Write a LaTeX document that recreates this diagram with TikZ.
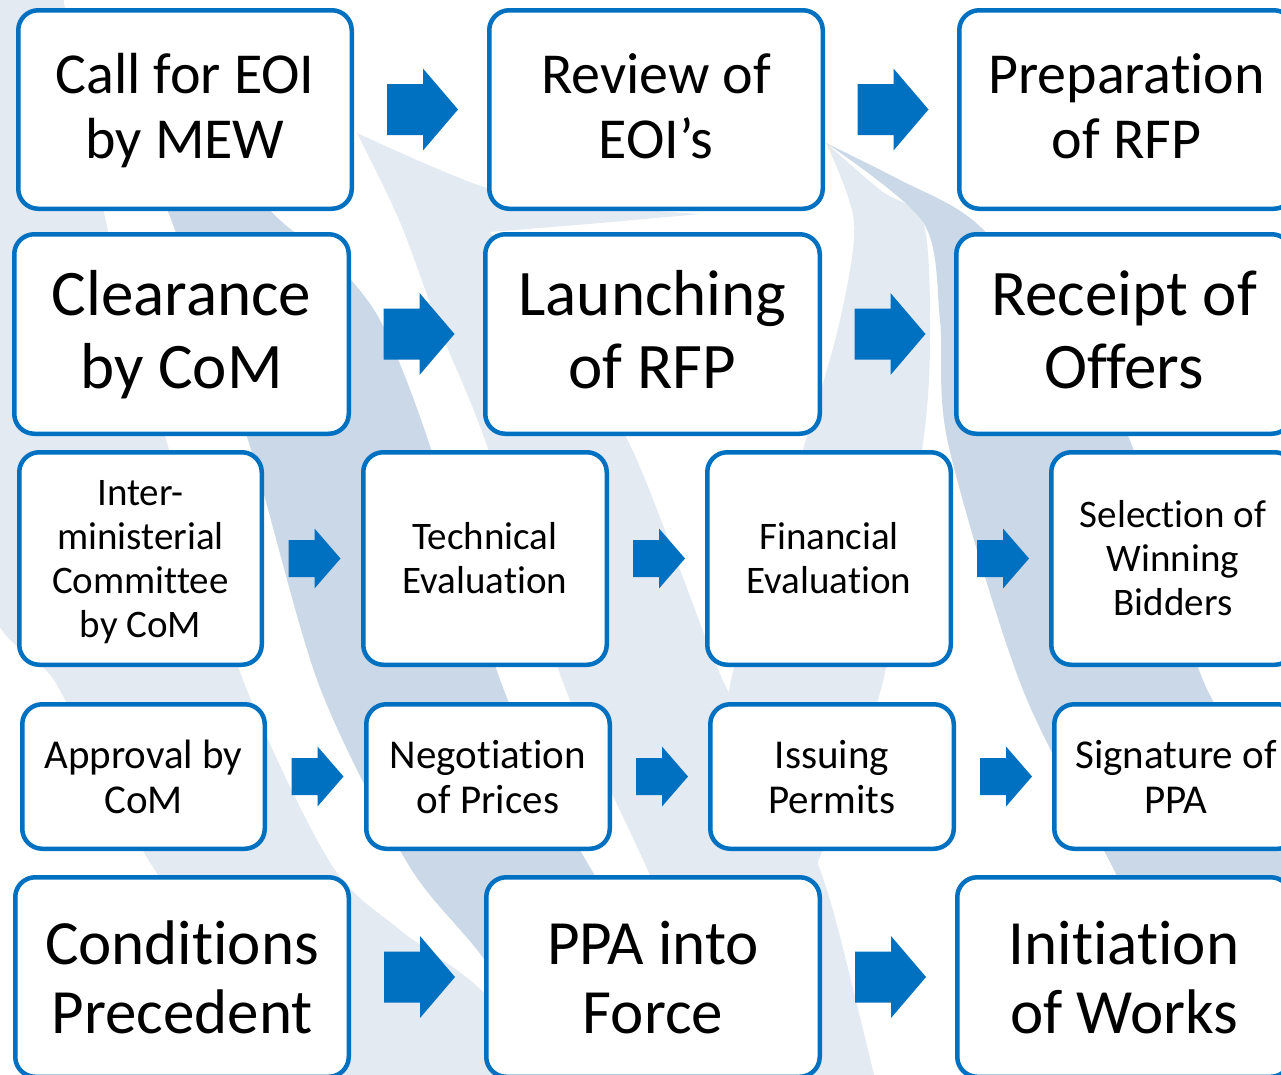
\documentclass[tikz,border=0pt]{standalone}
\usepackage{fontspec}
\setmainfont{Carlito}[RawFeature={-liga;-calt;-clig;-dlig}]
\usetikzlibrary{calc}
\definecolor{bord}{RGB}{0,112,192}
\definecolor{bglight}{RGB}{228,234,242}
\definecolor{bgdark}{RGB}{202,216,231}
\newcommand\up[1]{\rule{0pt}{#1pt}}
\newcommand\dn[1]{\rule[-#1pt]{0pt}{#1pt}}
% box: name, style, x0, y0, x1, y1, text
\newcommand\bx[7]{\node[box,#2,minimum width={#5-#3-4.5},minimum height={#6-#4-4.5}] (#1) at ({(#3+#5)/2},{(#4+#6)/2}) {#7};}
% block arrow between two nodes: from, to, half length, shaft length, shaft half height, head half height
\newcommand\barrow[6]{\fill[arrowfill] let \p1=($(#1.east)!0.5!(#2.west)+(2pt,0)$) in
  (\x1-#3pt,\y1-#5pt) -- (\x1-#3pt+#4pt,\y1-#5pt) -- (\x1-#3pt+#4pt,\y1-#6pt) -- (\x1+#3pt,\y1)
  -- (\x1-#3pt+#4pt,\y1+#6pt) -- (\x1-#3pt+#4pt,\y1+#5pt) -- (\x1-#3pt,\y1+#5pt) -- cycle;}
\newcommand\bigarrow[2]{\barrow{#1}{#2}{35.5}{36}{25.5}{41}}
\newcommand\smallarrow[2]{\barrow{#1}{#2}{26}{26}{18.5}{30}}
\begin{document}
\begin{tikzpicture}[x=1pt,y=-1pt,
  box/.style={draw=bord, line width=4.5pt, rounded corners=20pt, fill=white, inner sep=0pt, align=center, text=black},
  rA/.style={font=\fontsize{58}{65}\selectfont},
  rB/.style={font=\fontsize{65}{73}\selectfont},
  rC/.style={font=\fontsize{39}{44}\selectfont},
  rD/.style={font=\fontsize{41}{45}\selectfont},
  rE/.style={font=\fontsize{63}{69}\selectfont},
  arrowfill/.style={fill=bord}]
\useasboundingbox (0,0) rectangle (1281,1074);
\clip (0,0) rectangle (1281,1074);
\fill[white] (0,0) rectangle (1281,1074);
% background swooshes
\fill[bglight] plot[smooth] coordinates {(-20,-20) (-20,560) (57,685) (151,864) (250,990) (330,1100)}
  -- plot[smooth] coordinates {(560,1100) (484,993) (400,930) (331,864) (245,685) (167,443) (106,222) (60,-20)} -- cycle;
\fill[bgdark] plot[smooth] coordinates {(90,40) (140,150) (172,222) (249,443) (319,685) (408,864) (484,959) (580,1100)}
  -- plot[smooth] coordinates {(780,1100) (680,990) (588,864) (502,685) (429,443) (380,320) (330,258) (282,222) (200,140) (90,40)} -- cycle;
\fill[bglight] plot[smooth] coordinates {(357,133) (487,188) (600,206) (700,214)}
  -- plot[smooth] coordinates {(700,214) (600,223) (490,232)}
  -- plot[smooth] coordinates {(490,232) (560,330) (629,443) (680,570) (725,685) (790,800) (830,900) (880,1100)}
  -- (740,1100)
  -- plot[smooth] coordinates {(740,1100) (700,990) (645,864) (564,685) (486,443) (440,330) (400,222) (357,133)} -- cycle;
\fill[bglight] plot[smooth] coordinates {(826,143) (880,190) (923,222) (930,330) (923,443) (882,685) (817,864) (780,930)}
  -- plot[smooth] coordinates {(770,900) (740,780) (730,685) (805,443) (840,320) (854,222) (826,143)} -- cycle;
\fill[bgdark] plot[smooth] coordinates {(826,143) (923,222) (940,320) (948,443) (1021,685) (1111,864) (1180,1000) (1220,1100)}
  -- plot[smooth] coordinates {(1400,1100) (1350,900) (1290,800) (1205,685) (1131,443) (1060,320) (975,222) (900,180) (826,143)} -- cycle;
% row 1
\bx{b1}{rA}{16}{8}{354}{211}{\up{49}Call for EOI\\by MEW\dn{17}}
\bx{b2}{rA}{487}{8}{825}{211}{\up{49}Review of\\EOI’s\dn{17}}
\bx{b3}{rA}{957}{8}{1296}{211}{\up{49}Preparation\\of RFP\dn{17}}
% row 2
\bx{b4}{rB}{12}{232}{351}{436}{\up{57}Clearance\\by CoM\dn{22}}
\bx{b5}{rB}{483}{232}{822}{436}{\up{57}Launching\\of RFP\dn{22}}
\bx{b6}{rB}{954}{232}{1294}{436}{\up{57}Receipt of\\Offers\dn{22}}
% row 3
\bx{b7}{rC}{17}{450}{264}{667}{\up{35}Inter-\\ministerial\\Committee\\by CoM\dn{10}}
\bx{b8}{rC}{361}{450}{609}{667}{\up{35}Technical\\Evaluation\dn{10}}
\bx{b9}{rC}{705}{450}{953}{667}{\up{35}Financial\\Evaluation\dn{10}}
\bx{b10}{rC}{1049}{450}{1297}{667}{\up{35}Selection of\\Winning\\Bidders\dn{10}}
% row 4
\bx{b11}{rD}{20}{702}{267}{851}{\up{38}Approval by\\CoM\dn{10}}
\bx{b12}{rD}{364}{702}{612}{851}{\up{38}Negotiation\\of Prices\dn{10}}
\bx{b13}{rD}{708}{702}{956}{851}{\up{38}Issuing\\Permits\dn{10}}
\bx{b14}{rD}{1052}{702}{1300}{851}{\up{38}Signature of\\PPA\dn{10}}
% row 5
\bx{b15}{rE}{13}{875}{351}{1079}{\up{58}Conditions\\Precedent\dn{15}}
\bx{b16}{rE}{484}{875}{822}{1079}{\up{58}PPA into\\Force\dn{15}}
\bx{b17}{rE}{955}{875}{1293}{1079}{\up{58}Initiation\\of Works\dn{15}}
% arrows
\bigarrow{b1}{b2}\bigarrow{b2}{b3}
\bigarrow{b4}{b5}\bigarrow{b5}{b6}
\smallarrow{b7}{b8}\smallarrow{b8}{b9}\smallarrow{b9}{b10}
\smallarrow{b11}{b12}\smallarrow{b12}{b13}\smallarrow{b13}{b14}
\bigarrow{b15}{b16}\bigarrow{b16}{b17}
\end{tikzpicture}
\end{document}
